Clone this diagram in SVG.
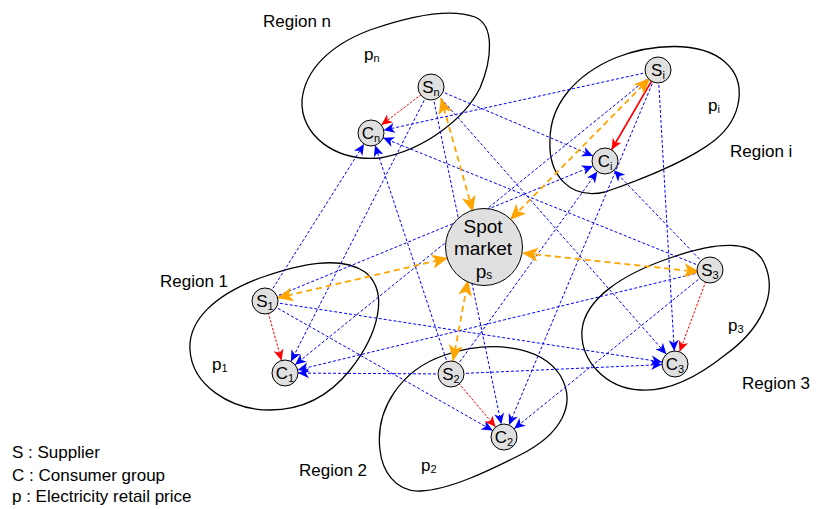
<svg xmlns="http://www.w3.org/2000/svg" width="816" height="509" viewBox="0 0 816 509">
<style>
text{font-family:"Liberation Sans",Arial,sans-serif;fill:#000}
.lbl{font-size:17px}
.sub{font-size:11px}
.region{fill:none;stroke:#000;stroke-width:1.3}
.node{fill:#e0e0e0;stroke:#000;stroke-width:1}
.blue{stroke:#0000ff;stroke-width:1;stroke-dasharray:3,2;fill:none;marker-end:url(#ab)}
.red{stroke:#ff0000;stroke-width:1;stroke-dasharray:2.5,1.5;fill:none;marker-end:url(#ar)}
.reds{stroke:#ff0000;stroke-width:1.6;fill:none;marker-end:url(#ar)}
.orange{stroke:#ffa500;stroke-width:1.8;stroke-dasharray:6,4;fill:none;marker-start:url(#ao);marker-end:url(#ao)}
</style>
<defs>
<marker id="ab" markerUnits="userSpaceOnUse" viewBox="-30 -10 40 20" markerWidth="40" markerHeight="20" refX="0" refY="0" orient="auto" overflow="visible">
<path d="M-13,0 L-24,-5 L-21,0 L-24,5 Z" fill="#0000ff"/>
</marker>
<marker id="ar" markerUnits="userSpaceOnUse" viewBox="-30 -10 40 20" markerWidth="40" markerHeight="20" refX="0" refY="0" orient="auto" overflow="visible">
<path d="M-13,0 L-24,-5 L-21,0 L-24,5 Z" fill="#ff0000"/>
</marker>
<marker id="ao" markerUnits="userSpaceOnUse" viewBox="-20 -10 30 20" markerWidth="30" markerHeight="20" refX="0" refY="0" orient="auto-start-reverse" overflow="visible">
<path d="M0,0 L-16,-7 L-12,0 L-16,7 Z" fill="#ffa500"/>
</marker>
</defs>
<rect width="816" height="509" fill="#fff"/>

<g id="regions">
<path id="region-n" class="region" d="M302,100 C305,70 330,45 370,30 C410,16 450,8 475,17 C495,25 492,60 480,88 C465,118 425,150 380,158 C335,162 300,135 302,100 Z"/>
<path id="region-i" class="region" d="M550,140 C550,105 575,75 615,58 C650,44 700,40 725,62 C748,82 742,118 715,140 C690,160 640,180 605,192 C570,200 548,175 550,140 Z"/>
<path id="region-1" class="region" d="M190,350 C188,320 215,295 260,278 C300,264 340,255 365,272 C390,292 378,335 350,370 C330,395 305,410 270,410 C230,410 192,385 190,350 Z"/>
<path id="region-3" class="region" d="M582,330 C585,300 620,275 670,258 C715,242 755,238 765,265 C778,295 760,330 725,355 C700,375 670,392 640,390 C605,388 580,360 582,330 Z"/>
<path id="region-2" class="region" d="M380,450 C375,410 400,370 445,355 C490,340 540,345 560,375 C578,405 560,435 520,455 C490,470 450,490 420,491 C395,492 382,470 380,450 Z"/>
</g>

<g id="labels">
<text class="lbl" x="263" y="27">Region n</text>
<text class="lbl" x="730" y="157">Region i</text>
<text class="lbl" x="160" y="287">Region 1</text>
<text class="lbl" x="742" y="389">Region 3</text>
<text class="lbl" x="299" y="476">Region 2</text>
<text class="lbl" x="364" y="60">p<tspan class="sub" dy="2">n</tspan></text>
<text class="lbl" x="708" y="111">p<tspan class="sub" dy="2">i</tspan></text>
<text class="lbl" x="212" y="370">p<tspan class="sub" dy="2">1</tspan></text>
<text class="lbl" x="728" y="331">p<tspan class="sub" dy="2">3</tspan></text>
<text class="lbl" x="421" y="471">p<tspan class="sub" dy="2">2</tspan></text>
<text class="lbl" x="12" y="458">S : Supplier</text>
<text class="lbl" x="12" y="481">C : Consumer group</text>
<text class="lbl" x="12" y="502">p : Electricity retail price</text>
</g>

<g id="connectors">
<line class="blue" x1="431" y1="87" x2="605" y2="161"/>
<line class="blue" x1="431" y1="87" x2="285" y2="373"/>
<line class="blue" x1="431" y1="87" x2="504" y2="437"/>
<line class="blue" x1="431" y1="87" x2="675" y2="364"/>
<line class="blue" x1="658" y1="70" x2="371" y2="133"/>
<line class="blue" x1="658" y1="70" x2="285" y2="373"/>
<line class="blue" x1="658" y1="70" x2="504" y2="437"/>
<line class="blue" x1="658" y1="70" x2="675" y2="364"/>
<line class="blue" x1="265" y1="301" x2="371" y2="133"/>
<line class="blue" x1="265" y1="301" x2="605" y2="161"/>
<line class="blue" x1="265" y1="301" x2="504" y2="437"/>
<line class="blue" x1="265" y1="301" x2="675" y2="364"/>
<line class="blue" x1="451" y1="374" x2="371" y2="133"/>
<line class="blue" x1="451" y1="374" x2="605" y2="161"/>
<line class="blue" x1="451" y1="374" x2="285" y2="373"/>
<line class="blue" x1="451" y1="374" x2="675" y2="364"/>
<line class="blue" x1="710" y1="270" x2="371" y2="133"/>
<line class="blue" x1="710" y1="270" x2="605" y2="161"/>
<line class="blue" x1="710" y1="270" x2="285" y2="373"/>
<line class="blue" x1="710" y1="270" x2="504" y2="437"/>
<line class="red" x1="431" y1="87" x2="371" y2="133"/>
<line class="reds" x1="658" y1="70" x2="605" y2="161"/>
<line class="red" x1="265" y1="301" x2="285" y2="373"/>
<line class="red" x1="451" y1="374" x2="504" y2="437"/>
<line class="red" x1="710" y1="270" x2="675" y2="364"/>
<line class="orange" x1="441" y1="98" x2="473" y2="212"/>
<line class="orange" x1="650" y1="78" x2="510" y2="220"/>
<line class="orange" x1="700" y1="272" x2="522" y2="253"/>
<line class="orange" x1="277" y1="298" x2="448" y2="258"/>
<line class="orange" x1="453" y1="361" x2="468" y2="280"/>
</g>

<g id="spot">
<circle class="node" cx="484" cy="247" r="38.5"/>
<text x="483" y="233" font-size="19" text-anchor="middle">Spot</text>
<text x="483" y="255" font-size="19" text-anchor="middle">market</text>
<text x="484" y="278" font-size="19" text-anchor="middle">p<tspan font-size="12" dy="1">s</tspan></text>
</g>

<g id="Sn"><circle class="node" cx="431" cy="87" r="13"/><text x="431" y="92.5" font-size="17" text-anchor="middle">S<tspan font-size="11" dy="3">n</tspan></text></g>
<g id="Cn"><circle class="node" cx="371" cy="133" r="13"/><text x="371" y="138.5" font-size="17" text-anchor="middle">C<tspan font-size="11" dy="3">n</tspan></text></g>
<g id="Si"><circle class="node" cx="658" cy="70" r="13"/><text x="658" y="75.5" font-size="17" text-anchor="middle">S<tspan font-size="11" dy="3">i</tspan></text></g>
<g id="Ci"><circle class="node" cx="605" cy="161" r="13"/><text x="605" y="166.5" font-size="17" text-anchor="middle">C<tspan font-size="11" dy="3">i</tspan></text></g>
<g id="S1"><circle class="node" cx="265" cy="301" r="13"/><text x="265" y="306.5" font-size="17" text-anchor="middle">S<tspan font-size="11" dy="3">1</tspan></text></g>
<g id="C1"><circle class="node" cx="285" cy="373" r="13"/><text x="285" y="378.5" font-size="17" text-anchor="middle">C<tspan font-size="11" dy="3">1</tspan></text></g>
<g id="S2"><circle class="node" cx="451" cy="374" r="13"/><text x="451" y="379.5" font-size="17" text-anchor="middle">S<tspan font-size="11" dy="3">2</tspan></text></g>
<g id="C2"><circle class="node" cx="504" cy="437" r="13"/><text x="504" y="442.5" font-size="17" text-anchor="middle">C<tspan font-size="11" dy="3">2</tspan></text></g>
<g id="S3"><circle class="node" cx="710" cy="270" r="13"/><text x="710" y="275.5" font-size="17" text-anchor="middle">S<tspan font-size="11" dy="3">3</tspan></text></g>
<g id="C3"><circle class="node" cx="675" cy="364" r="13"/><text x="675" y="369.5" font-size="17" text-anchor="middle">C<tspan font-size="11" dy="3">3</tspan></text></g>
</svg>
